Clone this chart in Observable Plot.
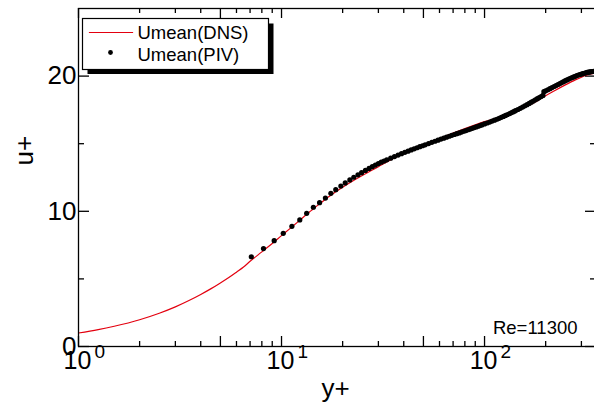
<!DOCTYPE html>
<html>
<head>
<meta charset="utf-8">
<script src="https://cdn.jsdelivr.net/npm/d3@7"></script>
<script src="https://cdn.jsdelivr.net/npm/@observablehq/plot@0.6"></script>
<style>
  html, body { margin: 0; padding: 0; background: #fff; }
  #chart svg { display: block; }
</style>
</head>
<body>
<div id="chart"></div>
<script>
// ---- data ----
const dnsYPlus = [1, 1.25, 1.5, 2, 2.5, 3, 3.5, 4, 4.5, 5, 5.5, 6, 6.5, 7, 8, 9, 10, 11, 12, 13, 14, 15, 16, 17, 18, 19, 20, 22, 25, 28, 30, 35, 40, 45, 50, 60, 70, 80, 90, 100, 120, 140, 160, 180, 200, 220, 250, 280, 300, 320, 345];
const dnsUPlus = [1.0, 1.25, 1.5, 1.98, 2.46, 2.93, 3.4, 3.85, 4.28, 4.7, 5.1, 5.5, 5.88, 6.3, 7.0, 7.62, 8.2, 8.72, 9.2, 9.65, 10.05, 10.42, 10.75, 11.05, 11.32, 11.56, 11.78, 12.17, 12.65, 13.05, 13.3, 13.85, 14.28, 14.62, 14.9, 15.38, 15.78, 16.12, 16.4, 16.63, 16.98, 17.36, 17.74, 18.12, 18.55, 18.9, 19.35, 19.72, 19.92, 20.08, 20.2];

const pivYPlus = [7.1, 8.15, 9.2, 10.2, 11.25, 12.3, 13.3, 14.35, 15.4, 16.45, 17.5, 18.5, 19.6, 20.6, 21.7, 22.7, 23.8, 24.8, 25.9, 27, 28, 29, 30, 31, 32, 33, 34.5, 36, 37.5, 39, 40.5, 42, 43.5, 45, 46.5, 48, 49.5, 51, 53, 55, 57, 59, 61, 63, 65, 67, 69, 71, 73, 75, 77, 79, 81, 83, 85, 87, 89, 91, 93, 95, 97, 100, 103, 106, 109, 112, 115, 118, 121, 124, 127, 130, 133, 136, 139, 142, 146, 150, 154, 158, 162, 166, 170, 174, 178, 182, 186, 190, 194, 196, 200, 205, 210, 215, 220, 225, 230, 235, 240, 245, 250, 255, 260, 265, 270, 275, 280, 285, 290, 295, 300, 305, 310, 315, 320, 325, 330, 335, 340, 345];
const pivUPlus = [6.64, 7.24, 7.83, 8.37, 8.89, 9.36, 9.85, 10.3, 10.64, 10.98, 11.33, 11.6, 11.87, 12.1, 12.32, 12.52, 12.7, 12.86, 13.02, 13.17, 13.3, 13.42, 13.53, 13.63, 13.72, 13.81, 13.93, 14.05, 14.16, 14.26, 14.36, 14.45, 14.54, 14.62, 14.7, 14.78, 14.85, 14.92, 15.01, 15.1, 15.18, 15.26, 15.34, 15.41, 15.48, 15.55, 15.62, 15.68, 15.74, 15.8, 15.86, 15.92, 15.97, 16.03, 16.08, 16.14, 16.19, 16.24, 16.29, 16.34, 16.39, 16.46, 16.53, 16.6, 16.67, 16.74, 16.81, 16.88, 16.95, 17.02, 17.09, 17.16, 17.23, 17.3, 17.37, 17.44, 17.53, 17.62, 17.71, 17.8, 17.89, 17.98, 18.07, 18.16, 18.25, 18.33, 18.41, 18.49, 18.57, 18.85, 18.91, 18.99, 19.07, 19.15, 19.23, 19.3, 19.38, 19.45, 19.52, 19.59, 19.66, 19.72, 19.78, 19.84, 19.89, 19.94, 19.99, 20.04, 20.08, 20.12, 20.15, 20.18, 20.21, 20.24, 20.27, 20.29, 20.31, 20.33, 20.34, 20.35];

const legendLabels = ["Umean(DNS)", "Umean(PIV)"];
const annotation = ["Re=11300"];
const xLabel = ["y+"];
const yLabel = ["u+"];

const xLabelTicks = [1, 10, 100];
const xLabelExps = ["0", "1", "2"];
const yLabelTicks = [0, 10, 20];
const xMajorTicks = [1, 5, 10, 50, 100];
const xMinorTicks = [2, 3, 4, 6, 7, 8, 9, 20, 30, 40, 60, 70, 80, 90, 200, 300];
const yMajorTicks = [0, 10, 20];
const yMinorTicks = [5, 15];

// ---- tables ----
const dns = dnsYPlus.map((x, i) => ({x, y: dnsUPlus[i]}));
const piv = pivYPlus.map((x, i) => ({x, y: pivUPlus[i]}));
const xLab = xLabelTicks.map((x, i) => ({x, e: xLabelExps[i]}));

const W = 594, H = 411;
const mL = 78, mR = -2, mT = 8, mB = 65;
const plotH = H - mT - mB;
const plotW = W - mL - mR;
const font = "'Liberation Sans', Arial, Helvetica, sans-serif";
const red = "#e3000f";
const sw = 1.3;

const chart = Plot.plot({
  width: W,
  height: H,
  marginLeft: mL,
  marginRight: mR,
  marginTop: mT,
  marginBottom: mB,
  style: {fontFamily: font, background: "white", overflow: "hidden"},
  x: {type: "log", domain: [1, 356], axis: null},
  y: {domain: [0, 25], axis: null},
  marks: [
    // ticks (inward on all four sides)
    Plot.tickX(xMajorTicks, {x: d => d, insetTop: plotH - 10, stroke: "black", strokeWidth: sw}),
    Plot.tickX(xMinorTicks, {x: d => d, insetTop: plotH - 5, stroke: "black", strokeWidth: sw}),
    Plot.tickX(xMajorTicks, {x: d => d, insetBottom: plotH - 10, stroke: "black", strokeWidth: sw}),
    Plot.tickX(xMinorTicks, {x: d => d, insetBottom: plotH - 5, stroke: "black", strokeWidth: sw}),
    Plot.tickY(yMajorTicks, {y: d => d, insetRight: plotW - 11, stroke: "black", strokeWidth: sw}),
    Plot.tickY(yMinorTicks, {y: d => d, insetRight: plotW - 6, stroke: "black", strokeWidth: sw}),
    Plot.tickY(yMajorTicks, {y: d => d, insetLeft: plotW - 11, stroke: "black", strokeWidth: sw}),
    Plot.tickY(yMinorTicks, {y: d => d, insetLeft: plotW - 6, stroke: "black", strokeWidth: sw}),

    // data
    Plot.line(dns, {x: "x", y: "y", stroke: red, strokeWidth: 1.2, curve: "monotone-x"}),
    Plot.dot(piv, {x: "x", y: "y", r: 2.6, fill: "black", stroke: "none"}),

    // frame
    Plot.frame({stroke: "black", strokeWidth: sw}),

    // tick labels
    Plot.text(yLabelTicks, {x: 1, y: d => d, text: d => String(d), textAnchor: "end", dx: -2, lineAnchor: "middle", fontSize: 26, fill: "black"}),
    Plot.text(xLab, {x: "x", y: 0, text: () => "10", textAnchor: "middle", lineAnchor: "bottom", dx: -1, dy: 22, fontSize: 25, fill: "black"}),
    Plot.text(xLab, {x: "x", y: 0, text: "e", textAnchor: "start", lineAnchor: "bottom", dx: 16, dy: 11.5, fontSize: 19, fill: "black"}),

    // axis labels
    Plot.text(xLabel, {frameAnchor: "bottom", text: d => d, lineAnchor: "bottom", dx: -2, dy: 50, fontSize: 26, fill: "black"}),
    Plot.text(yLabel, {frameAnchor: "left", text: d => d, rotate: -90, lineAnchor: "bottom", dx: -46, dy: -12, fontSize: 26, fill: "black"}),

    // annotation
    Plot.text(annotation, {frameAnchor: "bottom-right", text: d => d, textAnchor: "end", lineAnchor: "bottom", dx: -19, dy: -12.5, fontSize: 18.5, fill: "black"}),

    // legend: shadow, box, entries
    Plot.frame({fill: "black", insetLeft: 9, insetTop: 15, insetRight: plotW - 195, insetBottom: plotH - 65.5}),
    Plot.frame({fill: "white", stroke: "black", strokeWidth: 1.2, insetLeft: 4, insetTop: 10, insetRight: plotW - 190, insetBottom: plotH - 61}),
    Plot.frame({anchor: "top", stroke: red, strokeWidth: 1.2, insetTop: 24, insetLeft: 11, insetRight: plotW - 54}),
    Plot.dot([legendLabels[1]], {frameAnchor: "top-left", dx: 32, dy: 44, r: 2.4, fill: "black", stroke: "none"}),
    Plot.text([legendLabels[0]], {frameAnchor: "top-left", text: d => d, textAnchor: "start", lineAnchor: "bottom", dx: 59, dy: 30.5, fontSize: 18.5, fill: "black"}),
    Plot.text([legendLabels[1]], {frameAnchor: "top-left", text: d => d, textAnchor: "start", lineAnchor: "bottom", dx: 59, dy: 52.5, fontSize: 18.5, fill: "black"})
  ]
});

document.getElementById("chart").appendChild(chart);
</script>
</body>
</html>
